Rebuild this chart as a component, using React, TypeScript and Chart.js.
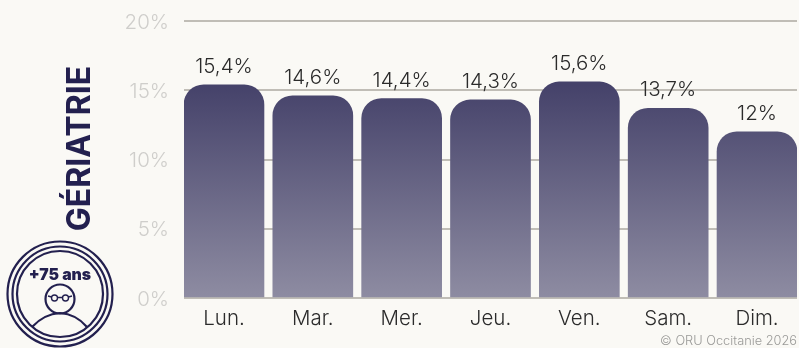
import React, { useEffect, useRef } from "react";
import { Chart, registerables } from "chart.js";

Chart.register(...registerables);

const days = ["Lun.", "Mar.", "Mer.", "Jeu.", "Ven.", "Sam.", "Dim."];
const positions = [0, 1, 2, 3, 4, 5, 6];
const rates = [15.4, 14.6, 14.4, 14.3, 15.6, 13.7, 12];
const rateLabels = ["15,4%", "14,6%", "14,4%", "14,3%", "15,6%", "13,7%", "12%"];
const sideTitle = "GÉRIATRIE";
const badgeText = "+75 ans";
const credit = "© ORU Occitanie 2026";

const BG = "#faf9f5";
const NAVY = "#23204f";

const decorations = {
  id: "decorations",
  beforeDraw(chart: any) {
    const { ctx, width, height } = chart;
    ctx.save();
    ctx.fillStyle = BG;
    ctx.fillRect(0, 0, width, height);
    ctx.restore();
  },
  afterDatasetsDraw(chart: any) {
    const { ctx } = chart;
    const meta = chart.getDatasetMeta(0);
    ctx.save();
    ctx.font = '300 20.5px Inter';
    ctx.fillStyle = "#2b2b2b";
    ctx.textAlign = "center";
    ctx.textBaseline = "alphabetic";
    meta.data.forEach((bar: any, i: number) => {
      ctx.fillText(rateLabels[i], bar.x, bar.y - 12);
    });
    ctx.restore();

    ctx.save();
    ctx.translate(90, 148.5);
    ctx.rotate(-Math.PI / 2);
    ctx.font = '700 32px Inter';
    ctx.fillStyle = NAVY;
    ctx.textAlign = "center";
    ctx.textBaseline = "alphabetic";
    ctx.fillText(sideTitle, 0, 0);
    ctx.restore();

    ctx.save();
    ctx.font = '300 12.8px Inter';
    ctx.fillStyle = "#9a9a98";
    ctx.textAlign = "right";
    ctx.textBaseline = "alphabetic";
    ctx.fillText(credit, 797, 345);
    ctx.restore();

    const cx = 60;
    const cy = 294;
    ctx.save();
    ctx.strokeStyle = NAVY;
    ctx.lineWidth = 2.2;
    [52.5, 47.5, 43].forEach((r) => {
      ctx.beginPath();
      ctx.arc(cx, cy, r, 0, Math.PI * 2);
      ctx.stroke();
    });
    ctx.beginPath();
    ctx.arc(cx, 299, 14.5, 0, Math.PI * 2);
    ctx.stroke();
    ctx.lineWidth = 1.4;
    ctx.beginPath();
    ctx.arc(54.5, 298, 3, 0, Math.PI * 2);
    ctx.moveTo(68.5, 298);
    ctx.arc(65.5, 298, 3, 0, Math.PI * 2);
    ctx.moveTo(57.5, 297.5);
    ctx.lineTo(62.5, 297.5);
    ctx.moveTo(51.5, 297);
    ctx.lineTo(48, 296);
    ctx.moveTo(68.5, 297);
    ctx.lineTo(72, 296);
    ctx.stroke();
    ctx.lineWidth = 2.2;
    ctx.beginPath();
    ctx.moveTo(32, 327);
    ctx.quadraticCurveTo(44, 314, 60, 313);
    ctx.quadraticCurveTo(76, 314, 87, 327);
    ctx.stroke();
    ctx.font = '900 15.8px Inter';
    ctx.fillStyle = NAVY;
    ctx.textAlign = "center";
    ctx.fillText(badgeText, 60, 280);
    ctx.restore();
  },
};

export default function App() {
  const ref = useRef<HTMLCanvasElement>(null);
  useEffect(() => {
    const canvas = ref.current!;
    const ctx = canvas.getContext("2d")!;
    const gradient = ctx.createLinearGradient(0, 85, 0, 298);
    gradient.addColorStop(0, "#45426a");
    gradient.addColorStop(1, "#8e8ca2");
    const chart = new Chart(canvas, {
      type: "bar",
      data: {
        datasets: [
          {
            data: positions.map((p, i) => ({ x: p, y: rates[i] })),
            backgroundColor: gradient,
            barThickness: 80,
            borderRadius: { topLeft: 20, topRight: 20, bottomLeft: 0, bottomRight: 0 },
            borderSkipped: false,
          },
        ],
      },
      options: {
        animation: false,
        responsive: false,
        layout: { padding: { left: 0, right: 2, top: 21, bottom: 0 } },
        plugins: { legend: { display: false }, tooltip: { enabled: false } },
        scales: {
          x: {
            type: "linear",
            offset: false,
            min: -0.45,
            max: 6.45,
            grid: { display: false },
            border: { display: false },
            afterFit(scale: any) {
              scale.height = 50;
            },
            afterTickToLabelConversion(scale: any) {
              scale.ticks = positions.map((p) => ({ value: p, label: days[p] }));
            },
            ticks: {
              color: "#2b2b2b",
              font: { family: "Inter", size: 20.5, weight: "300" },
              padding: 1,
              maxRotation: 0,
              autoSkip: false,
            },
          },
          y: {
            min: 0,
            max: 20,
            afterFit(scale: any) {
              scale.width = 184;
              scale.paddingTop = 0;
              scale.paddingBottom = 0;
            },
            grid: { color: "#c0bdb6", lineWidth: 2, drawTicks: false },
            border: { display: false },
            ticks: {
              stepSize: 5,
              color: "#cfcecb",
              padding: 15,
              labelOffset: 1.5,
              font: { family: "Inter", size: 20.5, weight: "300" },
              callback: (v: any) => `${v}%`,
            },
          },
        },
      },
      plugins: [decorations],
    } as any);
    return () => chart.destroy();
  }, []);
  return (
    <canvas
      ref={ref}
      width={799}
      height={348}
      style={{ position: "fixed", left: 0, top: 0, width: 799, height: 348, display: "block" }}
    />
  );
}
